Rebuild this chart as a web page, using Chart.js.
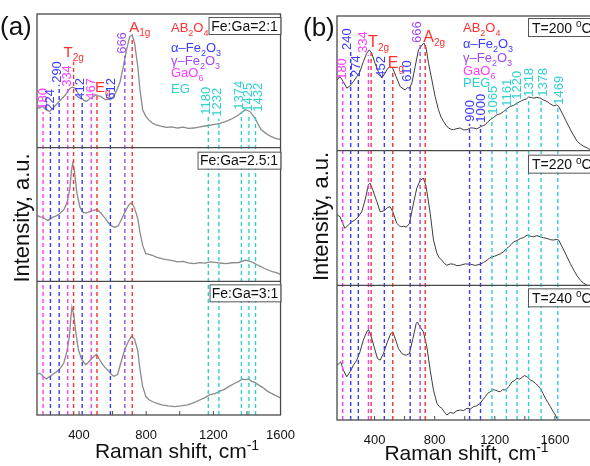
<!DOCTYPE html>
<html><head><meta charset="utf-8">
<script src="https://cdn.jsdelivr.net/npm/chart.js@4.4.1/dist/chart.umd.min.js"></script>
<style>
html,body{margin:0;padding:0;overflow:hidden;background:#fff;}
#wrap{position:relative;width:590px;height:466px;overflow:hidden;background:#fff;}
canvas{position:absolute;top:0;}
</style></head><body>
<div id="wrap">
<canvas id="ca" width="300" height="466" style="left:0px"></canvas>
<canvas id="cb" width="310" height="466" style="left:300px"></canvas>
</div>
<script>
// ---------- DATA: panel (a) ----------
const shiftA1 = [152,167,186,202,225,253,282,300,320,339,358,374,387,400,415,430,444,458,473,487,501,515,530,545,559,573,587,602,616,630,645,664,683,702,717,731,750,763,779,798,817,836,860,893,920,950,988,1020,1050,1084,1120,1160,1199,1240,1275,1315,1352,1390,1418,1447,1485,1515,1543,1570,1600];
const intA1 = [29.6,29.9,30.8,28.4,27.1,30.6,34.6,37.0,39.6,43.3,45.3,44.8,42.0,39.5,37.1,35.4,34.6,36.0,37.1,38.4,39.6,38.7,38.3,37.0,35.8,36.4,35.8,37.8,40.8,44.5,49.5,60.7,73.1,83.1,84.3,78.2,60.7,43.3,28.4,23.4,20.6,18.4,17.0,15.9,15.2,15.6,14.7,15.3,14.5,14.7,15.6,16.4,17.2,18.1,19.6,21.8,24.6,28.4,27.1,22.2,13.4,10.5,8.4,7.0,6.0];

const shiftA2 = [152,170,186,200,215,230,243,262,282,296,310,329,345,355,362,368,374,387,406,425,440,454,468,482,495,507,518,530,545,559,573,587,602,616,635,654,668,683,696,708,725,738,750,763,779,798,815,836,860,893,920,950,988,1020,1050,1084,1120,1150,1180,1210,1240,1275,1310,1352,1390,1428,1457,1480,1505,1530,1552,1575,1600];
const intA2 = [49.1,48.2,47.9,46.6,45.4,46.5,47.9,48.8,50.4,51.8,53.6,59.0,68.9,82.4,88.1,85.5,81.3,66.4,55.3,51.6,51.0,51.6,52.3,52.8,53.5,53.6,52.6,51.1,48.8,46.7,44.2,42.2,41.0,40.5,41.7,46.7,50.5,54.1,57.0,58.5,56.5,52.0,46.7,36.8,26.9,20.7,20.2,19.5,18.1,17.0,16.2,15.7,14.6,14.9,13.8,13.3,14.0,13.6,14.6,14.2,13.7,13.3,13.9,14.1,15.8,14.6,12.6,11.2,9.6,8.3,7.2,6.5,5.2];

const shiftA3 = [152,165,177,190,206,225,243,262,282,296,310,329,343,352,358,363,369,381,396,415,438,450,463,478,492,505,521,535,549,563,578,592,607,630,649,673,696,712,731,750,763,779,798,815,836,860,893,930,969,1005,1046,1085,1122,1150,1180,1210,1237,1265,1294,1325,1352,1370,1390,1410,1428,1446,1466,1495,1523,1560,1600];
const intA3 = [30.3,31.2,30.3,28.5,27.0,28.8,30.3,32.0,34.1,36.2,39.1,48.0,59.3,73.2,80.8,78.5,74.5,61.9,49.2,41.7,37.9,38.6,40.4,42.5,44.2,45.5,41.7,38.8,36.6,34.5,32.8,30.5,29.0,30.3,39.1,49.2,55.5,58.8,56.8,48.0,34.1,21.4,13.9,11.6,10.1,8.8,7.6,6.9,6.3,6.8,7.6,9.3,11.4,13.0,15.2,16.0,17.7,19.2,21.4,23.6,25.2,26.8,26.5,27.0,25.2,24.4,22.7,20.5,17.7,15.3,12.7];

const linesA_pos   = [186,230,282,333,368,419,473,507,587,673,717,1170,1233,1367,1412,1451];
const linesA_top   = [226.9,226.1,247,244,264.2,234.3,234.3,240.3,234.3,268.7,282.1,223.1,221.6,226.9,225.4,225.4];
const linesA_label = ['180','224','290','334','T|2g','412','467','E|g','612','666','A|1g','1180','1232','1374','1425','1432'];
const linesA_kind  = ['GaO6','aFe','aFe','GaO6','AB','aFe','GaO6','AB','aFe','gFe','AB','EG','EG','EG','EG','EG'];
const boxesA = ['Fe:Ga=2:1','Fe:Ga=2.5:1','Fe:Ga=3:1'];

// ---------- DATA: panel (b) ----------
const shiftB1 = [152,170,192,215,237,259,281,303,325,348,365,381,403,425,448,470,485,499,521,543,570,590,603,618,632,648,670,692,715,730,743,759,781,803,825,842,859,875,892,910,925,948,970,993,1015,1037,1059,1080,1103,1120,1137,1153,1170,1192,1215,1237,1259,1281,1303,1325,1348,1370,1392,1410,1425,1442,1459,1480,1503,1525,1548,1570,1592,1610,1625,1648,1681,1715,1748,1770,1792,1815,1837,1860,1880];
const intB1 = [52.6,55.0,51.3,46.4,48.1,51.3,55.0,58.7,66.1,72.4,74.8,72.4,65.0,58.7,53.9,57.6,60.5,62.4,61.3,55.0,47.6,46.0,45.2,46.8,46.4,50.1,62.4,74.8,78.5,79.8,76.1,65.0,52.6,40.2,30.4,25.0,21.7,18.9,16.8,15.9,15.6,16.4,16.8,15.4,15.6,16.9,16.8,16.2,17.6,18.5,19.3,21.4,23.0,24.6,26.7,27.4,29.1,31.2,32.8,33.6,35.3,36.6,37.8,38.4,39.8,39.5,39.0,39.6,39.0,37.6,36.5,34.6,33.3,33.9,32.8,27.9,20.5,13.1,6.9,4.8,3.2,2.0,0.7,0.3,0];

const shiftB2 = [152,170,188,203,225,248,270,292,315,337,359,370,388,415,437,455,470,487,503,521,548,565,581,595,610,632,659,681,703,725,743,770,792,815,830,848,865,881,903,925,948,970,1003,1037,1070,1103,1125,1148,1165,1181,1198,1215,1237,1259,1275,1292,1308,1325,1348,1370,1392,1415,1437,1459,1480,1503,1525,1548,1570,1592,1608,1625,1648,1681,1703,1726,1748,1770,1792,1815];
const intB2 = [52.2,51.0,46.0,42.3,44.8,47.2,48.5,51.0,54.7,63.4,74.6,75.9,70.9,62.2,54.7,55.0,56.0,57.8,58.4,54.7,46.0,44.2,43.5,44.0,43.1,46.0,61.0,72.2,77.8,79.6,73.4,53.5,33.6,23.7,20.5,18.7,16.2,14.9,15.9,15.7,14.6,14.9,15.9,15.7,14.8,15.7,17.0,18.7,20.2,21.1,21.6,22.4,23.4,24.9,27.0,28.6,30.2,32.3,33.2,34.8,35.5,37.3,36.5,36.0,36.9,36.0,35.3,34.8,33.9,33.6,34.2,33.6,28.6,21.1,16.0,11.2,7.0,3.7,1.5,0];

const shiftB3 = [152,175,192,215,237,259,281,303,325,348,359,375,397,419,437,459,485,508,521,537,559,581,595,610,632,655,677,685,703,725,748,770,792,815,830,848,865,881,903,925,948,970,993,1015,1037,1059,1080,1103,1120,1137,1153,1170,1187,1203,1220,1237,1253,1270,1292,1315,1330,1348,1365,1381,1398,1415,1437,1453,1470,1487,1503,1520,1537,1553,1570,1587,1603,1619];
const intB3 = [40.7,43.2,37.0,32.1,35.8,40.7,44.4,50.6,59.3,65.4,67.2,63.0,54.3,45.7,44.4,49.4,58.0,64.2,65.4,60.5,53.1,49.4,48.6,48.1,49.4,60.5,71.6,72.8,69.1,65.4,54.3,37.0,22.2,12.4,10.0,8.7,5.8,3.7,5.6,5.0,6.9,7.4,7.0,8.7,8.2,9.9,10.6,12.4,15.0,17.3,19.8,21.0,22.5,22.2,21.4,21.0,22.6,22.2,24.7,28.4,29.2,30.9,30.4,31.6,33.0,32.1,29.6,28.8,27.2,25.6,23.5,19.8,16.1,13.0,9.9,6.5,3.7,0];

const linesB_pos   = [188,241,292,359,377,465,521,637,703,737,1032,1105,1181,1277,1348,1425,1508,1619];
const linesB_top   = [251.1,273.3,253.3,271.1,272.6,252.6,258.5,249.6,278.5,278.5,220,219.3,225.2,231.1,236.3,238.5,238.5,232.6];
const linesB_label = ['180','240','274','334','T|2g','452','E|g','610','666','A|2g','900','1000','1065','1161','1220','1318','1378','1469'];
const linesB_kind  = ['GaO6','aFe','aFe','GaO6','AB','aFe','AB','aFe','gFe','AB','aFe','aFe','EG','EG','EG','EG','EG','EG'];
const boxesB = ['200','220','240'];

const xTickLabels = [400,800,1200,1600];

// ---------- STYLE / LAYOUT ----------
const FONT = '"Liberation Sans", Arial, Helvetica, sans-serif';
const COL = {AB:'#ff3030', aFe:'#3b3bff', gFe:'#a048f5', GaO6:'#ff3cff', EG:'#2fd0d0'};

function drawRich(ctx, segs, x, y, size, color, align, subScale){
  const ss = subScale || 0.68;
  ctx.save();
  ctx.fillStyle = color; ctx.textBaseline = 'alphabetic'; ctx.textAlign = 'left';
  let w = 0;
  for (const [t,m] of segs){ ctx.font = Math.round(m ? size*ss : size) + 'px ' + FONT; w += ctx.measureText(t).width; }
  let cx = align === 'center' ? x - w/2 : (align === 'right' ? x - w : x);
  for (const [t,m] of segs){
    const s = Math.round(m ? size*ss : size);
    ctx.font = s + 'px ' + FONT;
    ctx.fillText(t, cx, y + (m === -1 ? size*0.27 : (m === 1 ? -size*0.40 : 0)));
    cx += ctx.measureText(t).width;
  }
  ctx.restore();
  return w;
}

function makePanel(P){
  const datasets = [];
  P.lines.pos.forEach((p,i)=>{
    datasets.push({data:[{x:p,y:0},{x:p,y:P.lines.top[i]}], borderColor:COL[P.lines.kind[i]],
      borderDash:[4,3], borderWidth:1.4, pointRadius:0, order:0});
  });
  P.spectra.forEach(([xs,ys,off])=>{
    datasets.push({data:xs.map((x,i)=>({x:x,y:ys[i]+off})), borderColor:P.specColor,
      borderWidth:P.specWidth, pointRadius:0, tension:0, order:1});
  });
  const deco = {
    id:'deco',
    afterDatasetsDraw(chart){
      const ctx = chart.ctx, a = chart.chartArea, xs = chart.scales.x, ys = chart.scales.y;
      ctx.save();
      ctx.strokeStyle = '#4a4a4a'; ctx.lineWidth = 1.3;
      [100,200].forEach(v=>{ const y = ys.getPixelForValue(v); ctx.beginPath(); ctx.moveTo(a.left,y); ctx.lineTo(a.right,y); ctx.stroke(); });
      ctx.strokeRect(a.left, a.top, a.right-a.left, a.bottom-a.top);
      ctx.lineWidth = 1;
      xs.ticks.forEach(t=>{ if (t.value % 200 === 0){ const x = xs.getPixelForValue(t.value); ctx.beginPath(); ctx.moveTo(x,a.bottom); ctx.lineTo(x,a.bottom-4); ctx.stroke(); }});
      let m = 0;
      P.lines.pos.forEach((p,i)=>{
        const x = xs.getPixelForValue(p), yt = ys.getPixelForValue(P.lines.top[i]);
        const lab = P.lines.label[i], kind = P.lines.kind[i];
        if (kind === 'AB'){
          const [main, sub] = lab.split('|');
          const off = P.modeOff[m++];
          drawRich(ctx, [[main,0],[sub,-1]], x+off[0], yt+off[1], P.modeSize, COL.AB, 'left', 0.65);
        } else {
          ctx.save();
          ctx.translate(x + P.labelDx[i], yt-2); ctx.rotate(-Math.PI/2);
          ctx.font = '13px ' + FONT; ctx.fillStyle = COL[kind];
          ctx.textAlign = 'left'; ctx.textBaseline = 'middle';
          ctx.fillText(lab, 0, 0);
          ctx.restore();
        }
      });
      P.legend.forEach((seg,i)=>{ drawRich(ctx, seg[0], P.legendX, P.legendY[i], 13, COL[seg[1]], 'left'); });
      P.boxes.forEach((segs,s)=>{
        const top = ys.getPixelForValue(300-100*s) + P.boxDy[s];
        const w = P.boxW[s];
        const left = P.boxRight ? a.right - w : a.left + P.boxLeft;
        ctx.fillStyle = '#fff'; ctx.fillRect(left, top, w, P.boxH);
        ctx.strokeStyle = '#555'; ctx.lineWidth = 1; ctx.strokeRect(left+0.5, top+0.5, w, P.boxH);
        if (P.boxRight) drawRich(ctx, segs, left + w/2, top + P.boxH - 3.5, 14, '#111', 'center');
        else drawRich(ctx, segs, left + 4, top + P.boxH - 3.5, 14, '#111', 'left');
      });
      ctx.fillStyle = '#111'; ctx.font = '26px ' + FONT; ctx.textAlign = 'left'; ctx.textBaseline = 'alphabetic';
      ctx.fillText(P.tag, P.tagX, P.tagY);
      drawRich(ctx, [['Raman shift, cm',0],['-1',1]], P.xTitleX, P.xTitleY, 21, '#111', 'center');
      ctx.save();
      ctx.translate(P.yTitleX, P.yTitleY); ctx.rotate(-Math.PI/2);
      ctx.font = '22px ' + FONT; ctx.fillStyle = '#111'; ctx.textAlign = 'center'; ctx.textBaseline = 'alphabetic';
      ctx.fillText('Intensity, a.u.', 0, 0);
      ctx.restore();
      ctx.restore();
    }
  };
  return new Chart(document.getElementById(P.canvas), {
    type:'line',
    data:{datasets:datasets},
    options:{
      responsive:false, animation:false, events:[],
      layout:{padding:P.pad},
      plugins:{legend:{display:false}, tooltip:{enabled:false}},
      scales:{
        x:{type:'linear', min:P.xMin, max:P.xMax,
           grid:{display:false}, border:{display:false},
           ticks:{stepSize:200, autoSkip:false, maxRotation:0, padding:5, color:'#111',
                  font:{family:FONT, size:13},
                  callback:(v)=> xTickLabels.includes(v) ? String(v) : ''},
           afterFit:(s)=>{ s.height = P.axisH; }},
        y:{type:'linear', min:0, max:300, display:false}
      }
    },
    plugins:[deco]
  });
}

const sub = (t)=>[t,-1];
makePanel({
  canvas:'ca', pad:{left:37, top:14, right:10, bottom:0}, xMin:150, xMax:1600, axisH:51,
  spectra:[[shiftA3,intA3,0],[shiftA2,intA2,100],[shiftA1,intA1,200]], specColor:'#8a8a8a', specWidth:1.3,
  lines:{pos:linesA_pos, top:linesA_top, label:linesA_label, kind:linesA_kind},
  labelDx:[0,0,-2,0,0,-2,0,0,1,-2,0,-2,-1,-2,-1,3],
  modeOff:[[-10,-5],[-2,-2],[-3,-6]], modeSize:15,
  legend:[
    [[['AB',0],sub('2'),['O',0],sub('4')],'AB'],
    [[['\u03b1\u2013Fe',0],sub('2'),['O',0],sub('3')],'aFe'],
    [[['\u03b3\u2013Fe',0],sub('2'),['O',0],sub('3')],'gFe'],
    [[['GaO',0],sub('6')],'GaO6'],
    [[['EG',0]],'EG']
  ],
  legendX:171, legendY:[32,52,65,77,93],
  boxes: boxesA.map(t=>[[t,0]]), boxW:[72,83,71], boxDy:[3,4,3], boxH:17, boxRight:true,
  tag:'(a)', tagX:0, tagY:35,
  xTitleX:177, xTitleY:458, yTitleX:29, yTitleY:218
});
makePanel({
  canvas:'cb', pad:{left:37, top:16, right:13, bottom:0}, xMin:150, xMax:1880, axisH:46,
  spectra:[[shiftB3,intB3,0],[shiftB2,intB2,100],[shiftB1,intB1,200]], specColor:'#3c3c3c', specWidth:1,
  lines:{pos:linesB_pos, top:linesB_top, label:linesB_label, kind:linesB_kind},
  labelDx:[0,-3,-2,-5,0,-3,0,-3,-3,0,1,1,1,1,0,1,2,2],
  modeOff:[[-3,-6],[-5,-4],[-2,-3]], modeSize:16,
  legend:[
    [[['AB',0],sub('2'),['O',0],sub('4')],'AB'],
    [[['\u03b1\u2013Fe',0],sub('2'),['O',0],sub('3')],'aFe'],
    [[['\u03b3\u2013Fe',0],sub('2'),['O',0],sub('3')],'gFe'],
    [[['GaO',0],sub('6')],'GaO6'],
    [[['PEG',0]],'EG']
  ],
  legendX:163, legendY:[32,48,62,75,87],
  boxes: boxesB.map(t=>[['T='+t+' ',0],['o',1],['C',0]]), boxW:[90,90,90], boxDy:[2,4,3], boxH:18, boxRight:false, boxLeft:191,
  tag:'(b)', tagX:3, tagY:36,
  xTitleX:166.5, xTitleY:460, yTitleX:27.5, yTitleY:216.5
});
</script>
</body></html>
